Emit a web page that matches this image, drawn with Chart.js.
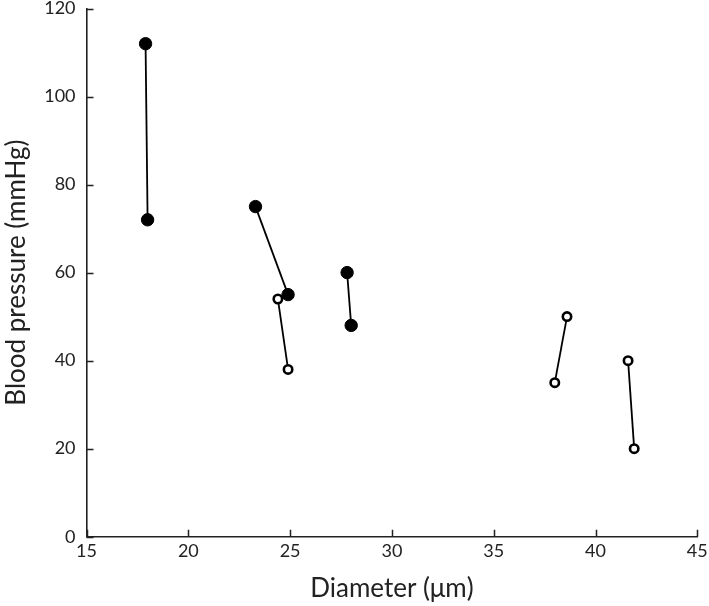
<!DOCTYPE html>
<html>
<head>
<meta charset="utf-8">
<script src="https://cdn.jsdelivr.net/npm/chart.js@4.4.1/dist/chart.umd.min.js"></script>
<style>
  html, body { margin: 0; padding: 0; background: #fff; }
  #wrap { width: 709px; height: 606px; }
</style>
</head>
<body>
<div id="wrap"><canvas id="grafico-pressao"></canvas></div>
<script>
// dados: cada par de pontos ligado por uma linha
const pairDiameterA = [17.9, 23.3, 24.4, 27.8, 38.0, 41.6];
const pairDiameterB = [18.0, 24.9, 24.9, 28.0, 38.6, 41.9];
const pairPressureA = [112, 75, 54, 60, 35, 40];
const pairPressureB = [72, 55, 38, 48, 50, 20];
const pairFilled = [true, true, false, true, false, false];

const xTicks = [15, 20, 25, 30, 35, 40, 45];
const yTicks = [0, 20, 40, 60, 80, 100, 120];

const ink = '#222222';

const datasets = pairDiameterA.map(function(x, i) {
    const filled = pairFilled[i];
    return {
        label: 'par ' + (i + 1),
        data: [
            {x: x, y: pairPressureA[i]},
            {x: pairDiameterB[i], y: pairPressureB[i]}
        ],
        showLine: true,
        borderColor: '#000',
        borderWidth: 1.8,
        pointBackgroundColor: filled ? '#000' : '#fff',
        pointBorderColor: '#000',
        pointBorderWidth: filled ? 1 : 2.6,
        pointRadius: filled ? 6.2 : 4.2,
        order: filled ? 1 : 0
    };
});

// ticks para dentro, como no original
const innerTicks = {
    id: 'innerTicks',
    afterDraw(chart) {
        const c = chart.ctx;
        const xs = chart.scales.x, ys = chart.scales.y;
        c.save();
        c.strokeStyle = ink;
        c.lineWidth = 1.5;
        c.beginPath();
        xs.ticks.forEach(function(t, i) {
            const px = Math.round(xs.getPixelForTick(i)) + 0.5;
            c.moveTo(px, xs.top);
            c.lineTo(px, xs.top - 7);
        });
        ys.ticks.forEach(function(t, i) {
            const py = Math.round(ys.getPixelForTick(i)) + 0.5;
            c.moveTo(ys.right, py);
            c.lineTo(ys.right + 7, py);
        });
        c.stroke();
        c.restore();
    }
};

new Chart(document.getElementById('grafico-pressao'), {
    type: 'scatter',
    data: { datasets: datasets },
    options: {
        responsive: true,
        maintainAspectRatio: false,
        animation: false,
        layout: { padding: { left: 1, right: 0, top: 0, bottom: 2 } },
        plugins: {
            legend: { display: false },
            tooltip: { enabled: false }
        },
        scales: {
            x: {
                type: 'linear',
                min: 15,
                max: 45,
                afterBuildTicks: function(axis) {
                    axis.ticks = xTicks.map(v => ({value: v}));
                },
                afterFit: function(axis) {
                    axis.paddingLeft = 0;
                    axis.paddingRight = 11.7;
                },
                grid: { drawOnChartArea: false, drawTicks: false },
                border: { color: ink, width: 1.6 },
                ticks: { color: ink, padding: 4, font: { family: 'Lato', size: 18 } },
                title: {
                    display: true,
                    text: 'Diameter (μm)',
                    color: ink,
                    padding: { top: 6.5, bottom: 0 },
                    font: { family: 'Lato', size: 26 }
                }
            },
            y: {
                min: 0,
                max: 120,
                afterBuildTicks: function(axis) {
                    axis.ticks = yTicks.map(v => ({value: v}));
                },
                afterFit: function(axis) {
                    axis.paddingTop = 8.5;
                    axis.paddingBottom = 0;
                },
                grid: { drawOnChartArea: false, drawTicks: false },
                border: { color: ink, width: 1.6 },
                ticks: { color: ink, padding: 11, font: { family: 'Lato', size: 18 } },
                title: {
                    display: true,
                    text: 'Blood pressure (mmHg)',
                    color: ink,
                    padding: { top: 0, bottom: 1 },
                    font: { family: 'Lato', size: 26 }
                }
            }
        }
    },
    plugins: [innerTicks]
});
</script>
</body>
</html>
